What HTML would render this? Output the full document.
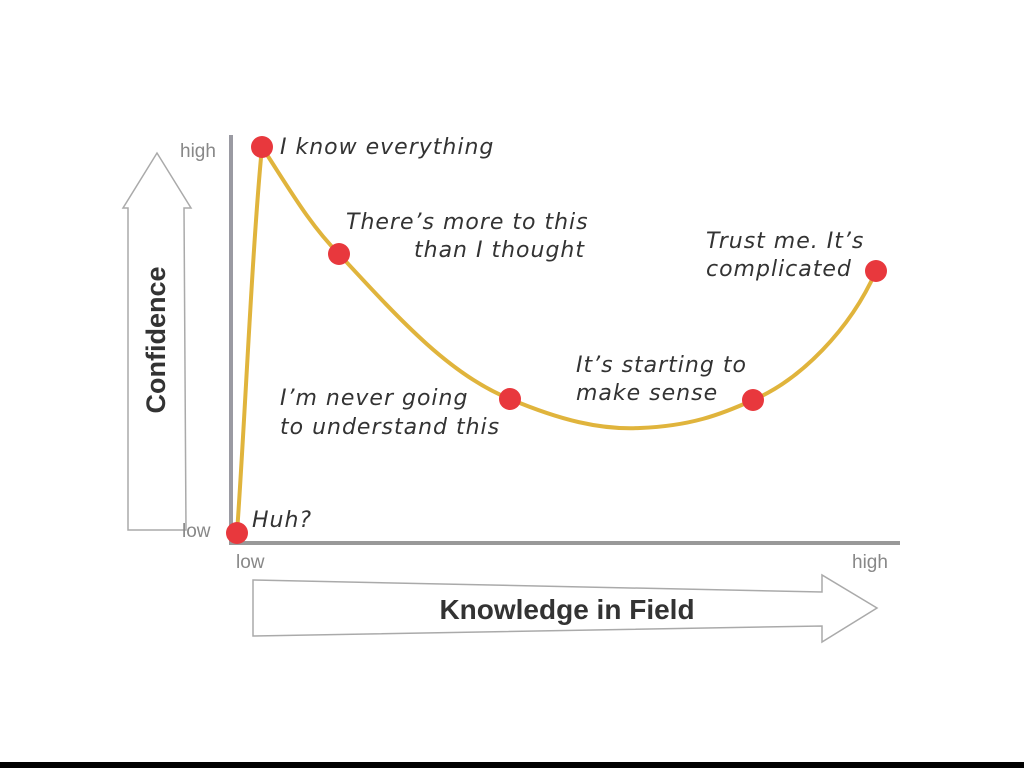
<!DOCTYPE html>
<html><head><meta charset="utf-8"><style>
html,body{margin:0;padding:0;background:#fff;width:1024px;height:768px;overflow:hidden}
</style></head><body>
<svg width="1024" height="768" viewBox="0 0 1024 768" xmlns="http://www.w3.org/2000/svg">
<rect width="1024" height="768" fill="#fff"/>
<rect x="0" y="762" width="1024" height="6" fill="#000"/>
<!-- vertical arrow -->
<polygon points="128,530 128,208 123,208 157,153 191,208 184,208 186,530" fill="none" stroke="#aaa" stroke-width="1.5"/>
<text transform="translate(165,340) rotate(-90)" text-anchor="middle" font-family="Liberation Sans, sans-serif" font-weight="bold" font-size="27" fill="#333">Confidence</text>
<!-- horizontal arrow -->
<polygon points="253,580 822,592 822,575 877,608 822,642 822,626 253,636" fill="none" stroke="#aaa" stroke-width="1.5"/>
<text x="567" y="619" text-anchor="middle" font-family="Liberation Sans, sans-serif" font-weight="bold" font-size="28" fill="#333">Knowledge in Field</text>
<!-- axes -->
<line x1="231" y1="135" x2="231" y2="543" stroke="#9a9aa2" stroke-width="4"/>
<line x1="229" y1="543" x2="900" y2="543" stroke="#999" stroke-width="4"/>
<g font-family="Liberation Sans, sans-serif" font-size="19" fill="#888">
<text x="180" y="157">high</text>
<text x="182" y="537">low</text>
<text x="236" y="568">low</text>
<text x="852" y="568">high</text>
</g>
<!-- curve -->
<path d="M237,533 C245,420 252,250 262,147 C290,190 310,225 339,254 C400,320 450,375 510,399 C560,420 600,430 640,428 C690,426 720,415 753,400 C800,380 850,330 876,271" fill="none" stroke="#e0b43c" stroke-width="4"/>
<g fill="#e8383d">
<circle cx="237" cy="533" r="11"/>
<circle cx="262" cy="147" r="11"/>
<circle cx="339" cy="254" r="11"/>
<circle cx="510" cy="399" r="11"/>
<circle cx="753" cy="400" r="11"/>
<circle cx="876" cy="271" r="11"/>
</g>
<g font-family="DejaVu Sans, sans-serif" font-style="italic" font-size="22" letter-spacing="1" fill="#333">
<text x="280" y="154">I know everything</text>
<text x="346" y="229">There’s more to this</text>
<text x="414" y="257">than I thought</text>
<text x="706" y="248">Trust me. It’s</text>
<text x="706" y="276">complicated</text>
<text x="576" y="372">It’s starting to</text>
<text x="576" y="400">make sense</text>
<text x="280" y="405">I’m never going</text>
<text x="280" y="434">to understand this</text>
<text x="252" y="527">Huh?</text>
</g>
</svg>
</body></html>
